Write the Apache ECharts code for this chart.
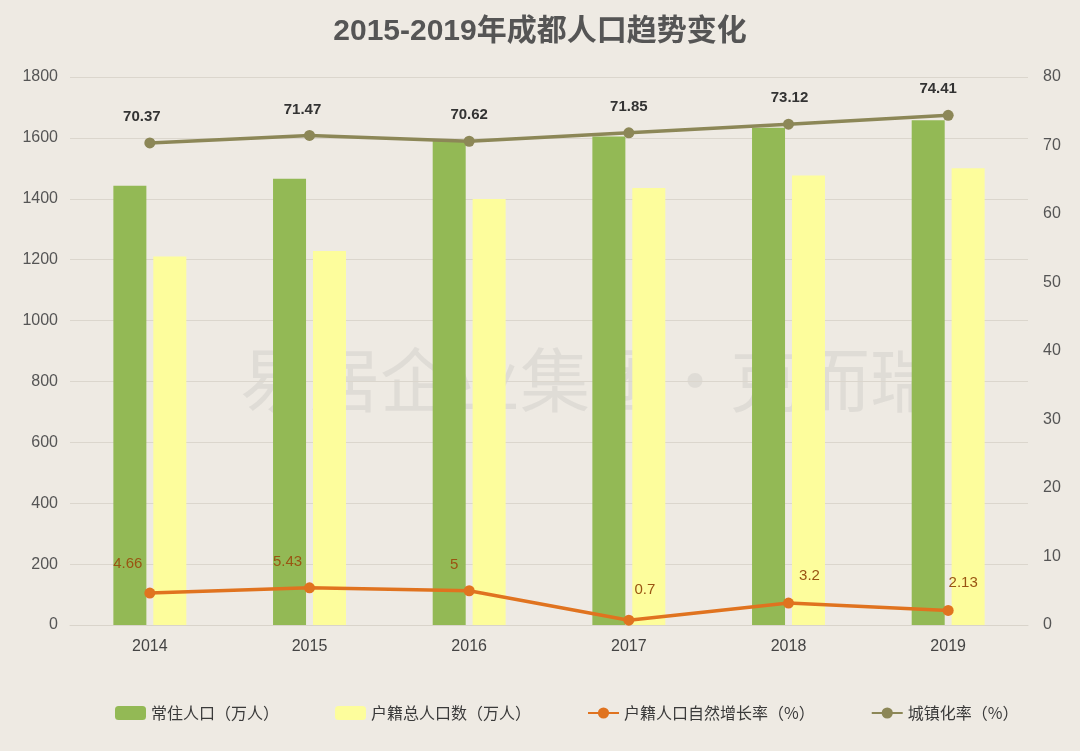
<!DOCTYPE html>
<html>
<head>
<meta charset="utf-8">
<script src="https://cdn.jsdelivr.net/npm/echarts@6/dist/echarts.min.js"></script>
<style>
html,body{margin:0;padding:0;background:#eeeae3;}
#chart{width:1080px;height:751px;}
</style>
</head>
<body>
<div id="chart"></div>
<script>
var categories = ['2014', '2015', '2016', '2017', '2018', '2019'];
var residentPop = [1442.8, 1465.8, 1591.8, 1604.5, 1633.0, 1658.1];
var registeredPop = [1210.7, 1228.1, 1398.9, 1435.3, 1476.1, 1500.1];
var naturalGrowth = [4.66, 5.43, 5, 0.7, 3.2, 2.13];
var urbanRate = [70.37, 71.47, 70.62, 71.85, 73.12, 74.41];
var leftTicks = [0, 1800, 200];
var rightTicks = [0, 80, 10];

var growthLabelOffsets = [[-22, -10], [-22, -7], [-15, -7], [16, -11], [21, -8], [15, -9]];
var urbanLabelOffsets = [[-8, 0], [-7, 0], [0, 0], [0, 0], [1, 0], [-10, 0]];

var font = '"Liberation Sans", "Noto Sans CJK SC", sans-serif';
var cjk = '"Noto Sans CJK SC", "Noto Sans", sans-serif';
var chart = echarts.init(document.getElementById('chart'));

chart.setOption({
  backgroundColor: '#eeeae3',
  animation: false,
  textStyle: { fontFamily: font },
  title: {
    text: '2015-2019年成都人口趋势变化',
    left: 'center', top: 12,
    textStyle: { fontSize: 30, fontWeight: 'bold', color: '#555555', fontFamily: font }
  },
  graphic: [{
    type: 'text', left: 240, top: 345, z: -1, silent: true,
    style: { text: '易居企业集团·克而瑞', fontSize: 70, fill: 'rgba(150,150,150,0.16)', fontFamily: cjk }
  }],
  legend: {
    left: 110, top: 700,
    itemGap: 56, itemWidth: 31, itemHeight: 14,
    textStyle: { fontSize: 16, color: '#3a3a3a', fontFamily: cjk },
    data: ['常住人口（万人）', '户籍总人口数（万人）', '户籍人口自然增长率（%）', '城镇化率（%）']
  },
  grid: { left: 70, right: 52, top: 77, bottom: 126 },
  xAxis: {
    type: 'category', data: categories,
    axisLine: { show: true, lineStyle: { color: '#d9d4cb' } },
    axisTick: { show: false },
    axisLabel: { fontSize: 16, color: '#444444', margin: 14, fontFamily: font }
  },
  yAxis: [{
    type: 'value', min: leftTicks[0], max: leftTicks[1], interval: leftTicks[2],
    axisLine: { show: false }, axisTick: { show: false },
    axisLabel: { fontSize: 16, color: '#555555', margin: 12, fontFamily: font, formatter: function (v) { return String(v); } },
    splitLine: { lineStyle: { color: '#dbd6cd', width: 1 } }
  }, {
    type: 'value', min: rightTicks[0], max: rightTicks[1], interval: rightTicks[2],
    axisLine: { show: false }, axisTick: { show: false },
    axisLabel: { fontSize: 16, color: '#555555', margin: 15, fontFamily: font },
    splitLine: { show: false }
  }],
  series: [{
    name: '常住人口（万人）', type: 'bar', data: residentPop,
    barWidth: 33, barGap: '21%',
    itemStyle: { color: '#93b955' }
  }, {
    name: '户籍总人口数（万人）', type: 'bar', data: registeredPop,
    barWidth: 33,
    itemStyle: { color: '#fdfd9c' }
  }, {
    name: '户籍人口自然增长率（%）', type: 'line', yAxisIndex: 1,
    data: naturalGrowth.map(function (v, i) {
      return { value: v, label: { offset: growthLabelOffsets[i] } };
    }),
    symbol: 'circle', symbolSize: 11,
    lineStyle: { color: '#e0731f', width: 3.5 },
    itemStyle: { color: '#e0731f' },
    label: { show: true, position: 'top', distance: 6, fontSize: 15, color: '#9a5412', fontFamily: font },
    z: 5
  }, {
    name: '城镇化率（%）', type: 'line', yAxisIndex: 1,
    data: urbanRate.map(function (v, i) {
      return { value: v, label: { offset: urbanLabelOffsets[i] } };
    }),
    symbol: 'circle', symbolSize: 11,
    lineStyle: { color: '#8c8757', width: 3.5 },
    itemStyle: { color: '#8c8757' },
    label: { show: true, position: 'top', distance: 13, fontSize: 15, fontWeight: 'bold', color: '#333333', fontFamily: font },
    z: 5
  }]
});
</script>
</body>
</html>
